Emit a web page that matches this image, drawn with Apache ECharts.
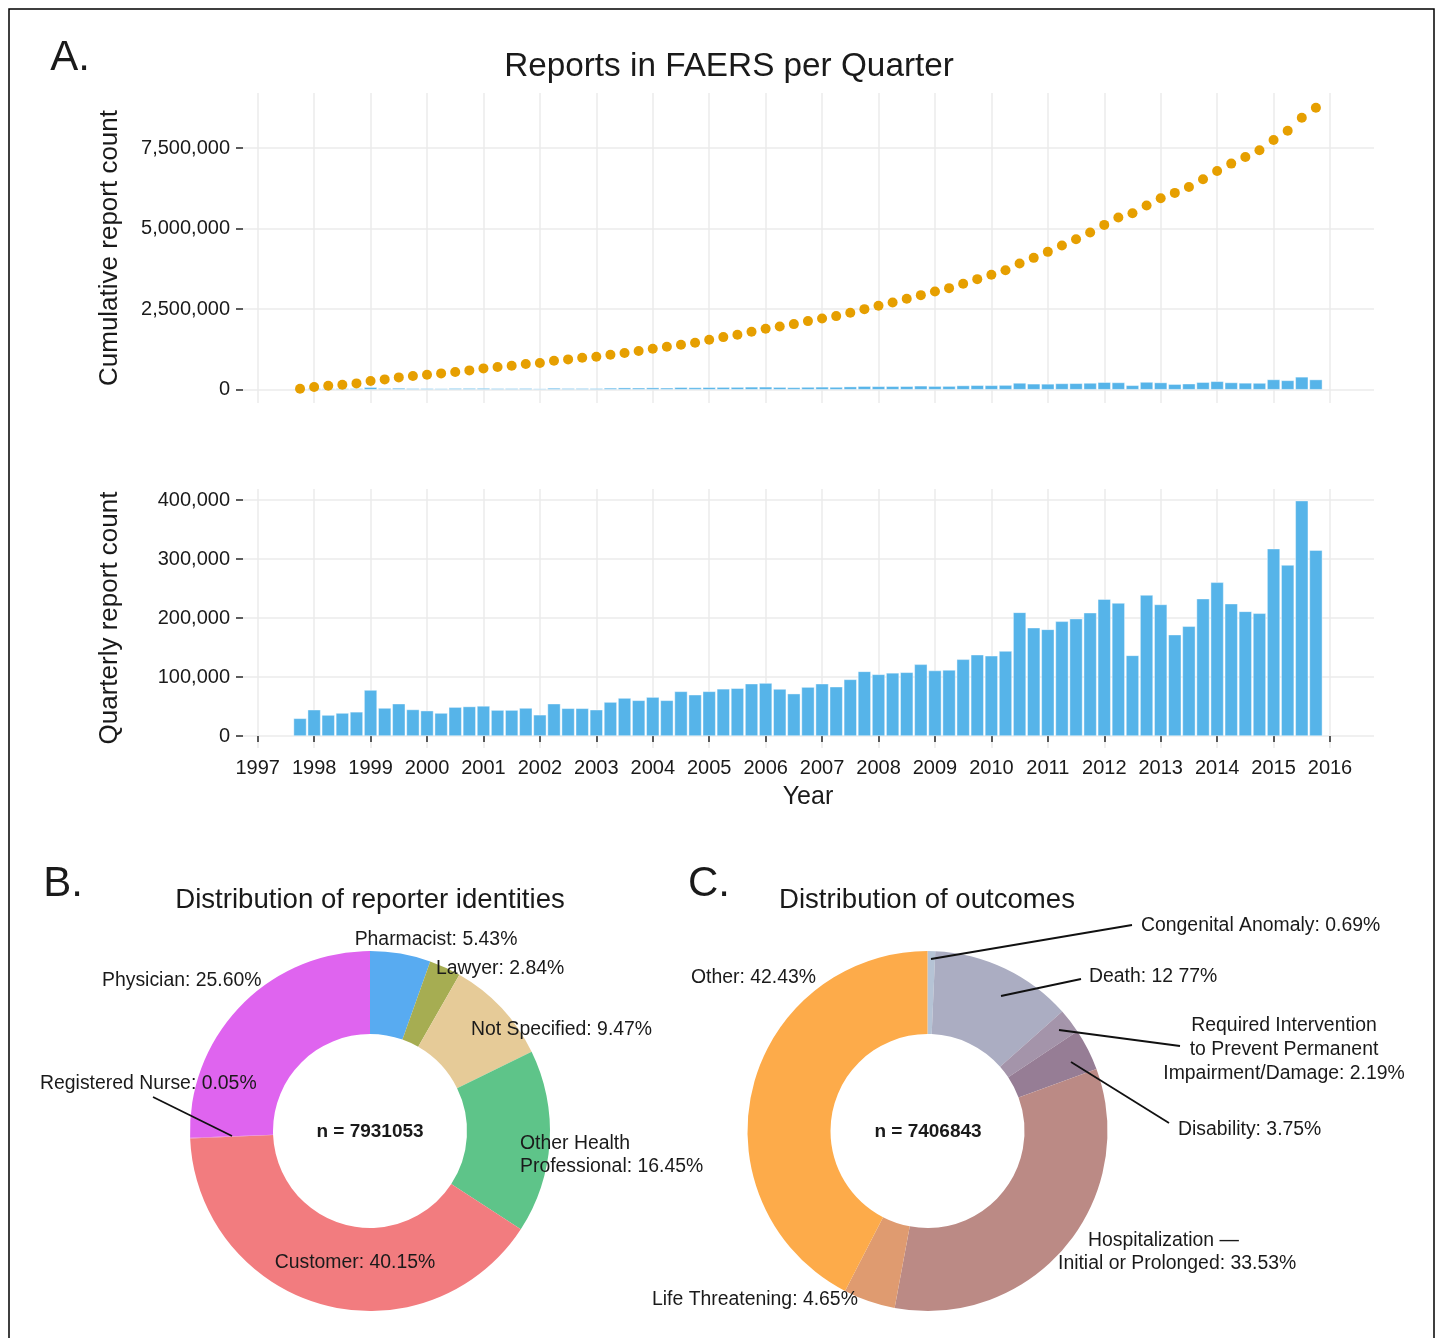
<!DOCTYPE html>
<html>
<head>
<meta charset="utf-8">
<script src="https://cdn.jsdelivr.net/npm/echarts@6/dist/echarts.min.js"></script>
<style>
html,body{margin:0;padding:0;background:#fff;}
#main{width:1439px;height:1338px;}
</style>
</head>
<body>
<div id="main"></div>
<script>
// ---------------- data ----------------
const quarters = [
  "1997Q4",
  "1998Q1","1998Q2","1998Q3","1998Q4",
  "1999Q1","1999Q2","1999Q3","1999Q4",
  "2000Q1","2000Q2","2000Q3","2000Q4",
  "2001Q1","2001Q2","2001Q3","2001Q4",
  "2002Q1","2002Q2","2002Q3","2002Q4",
  "2003Q1","2003Q2","2003Q3","2003Q4",
  "2004Q1","2004Q2","2004Q3","2004Q4",
  "2005Q1","2005Q2","2005Q3","2005Q4",
  "2006Q1","2006Q2","2006Q3","2006Q4",
  "2007Q1","2007Q2","2007Q3","2007Q4",
  "2008Q1","2008Q2","2008Q3","2008Q4",
  "2009Q1","2009Q2","2009Q3","2009Q4",
  "2010Q1","2010Q2","2010Q3","2010Q4",
  "2011Q1","2011Q2","2011Q3","2011Q4",
  "2012Q1","2012Q2","2012Q3","2012Q4",
  "2013Q1","2013Q2","2013Q3","2013Q4",
  "2014Q1","2014Q2","2014Q3","2014Q4",
  "2015Q1","2015Q2","2015Q3","2015Q4"
];
const quarterlyReports = [
  30000, 44600, 35600, 39000, 41000, 78000, 47500, 54800, 45000, 43000, 39000, 49000,
  50000, 51000, 44000, 44000, 47500, 36000, 54800, 47000, 47000, 44600, 57600, 64400,
  60500, 66000, 60500, 75700, 70000, 75700, 80000, 81000, 88700, 89800, 79700, 71800,
  83000, 88700, 83600, 96000, 109600, 104500, 107000, 108000, 121500, 111000, 112000, 130000,
  137800, 136000, 144000, 209600, 183600, 180800, 194400, 198900, 209000, 232000, 225400, 136700,
  239000, 223000, 171800, 186000, 232800, 260500, 224300, 211300, 208000, 317500, 289800, 398900,
  315000
];
const cumulativeReports = [
  31000, 83000, 124000, 155000, 196000, 269000, 320000, 382000, 424000, 465000,
  506000, 548000, 599000, 661000, 703000, 744000, 795000, 826000, 899000, 940000,
  992000, 1023000, 1085000, 1136000, 1198000, 1271000, 1333000, 1395000, 1457000, 1550000,
  1632000, 1705000, 1798000, 1891000, 1963000, 2035000, 2128000, 2211000, 2283000, 2386000,
  2500000, 2603000, 2707000, 2820000, 2934000, 3048000, 3151000, 3285000, 3430000, 3564000,
  3709000, 3915000, 4091000, 4277000, 4473000, 4670000, 4876000, 5114000, 5341000, 5475000,
  5713000, 5940000, 6106000, 6292000, 6529000, 6787000, 7015000, 7221000, 7428000, 7748000,
  8036000, 8440000, 8750000
];
const cumulativeTicks = [0, 2500000, 5000000, 7500000];
const quarterlyTicks = [0, 100000, 200000, 300000, 400000];
const yearTicks = [1997, 2016];

const reporterNames = ["Pharmacist", "Lawyer", "Not Specified", "Other Health Professional", "Customer", "Registered Nurse", "Physician"];
const reporterShares = [5.43, 2.84, 9.47, 16.45, 40.15, 0.05, 25.60];
const reporterTotal = 7931053;

const outcomeNames = ["Congenital Anomaly", "Death", "Required Intervention to Prevent Permanent Impairment/Damage", "Disability", "Hospitalization \u2014 Initial or Prolonged", "Life Threatening", "Other"];
const outcomeShares = [0.69, 12.77, 2.19, 3.75, 33.53, 4.65, 42.43];
const outcomeTotal = 7406843;

// ---------------- styles ----------------
const FONT = "'Liberation Sans', Arial, Helvetica, sans-serif";
const BLUE = '#56B4E9';
const ORANGE = '#E69F00';
const GRIDC = '#ebebeb';
const TXT = '#1a1a1a';
const reporterColors = ['#58ABF1', '#A6AD52', '#E6CB98', '#5EC489', '#F27C7F', '#EB6FB8', '#DF64EF'];
const outcomeColors = ['#B5C3D5', '#ABADC2', '#A494AA', '#967D95', '#BB8A85', '#DF9B70', '#FDAB4A'];

const toYear = q => +q.slice(0, 4) + (+q.slice(5) - 1) / 4;
const fmt = v => v.toLocaleString('en-US');

const barData = quarters.map((q, i) => [toYear(q), quarterlyReports[i]]);
const cumData = quarters.map((q, i) => [toYear(q), cumulativeReports[i]]);

const splitLine = { show: true, lineStyle: { color: GRIDC, width: 1.5 } };
const yTick = { show: true, length: 7, lineStyle: { color: '#333', width: 1.6 } };
const yLabel = { fontFamily: FONT, fontSize: 20, color: TXT, margin: 13, formatter: v => fmt(v) };

const chart = echarts.init(document.getElementById('main'), null, { renderer: 'canvas' });

function t(text, x, y, size, opts) {
  opts = opts || {};
  return {
    type: 'text', x: x, y: y, rotation: opts.rotation || 0, silent: true, z: 100,
    style: {
      text: text, font: (opts.bold ? 'bold ' : '') + size + 'px ' + FONT, fill: TXT,
      align: opts.align || 'center', verticalAlign: 'middle', lineHeight: opts.lineHeight || size * 1.2
    }
  };
}
function ln(x1, y1, x2, y2) {
  return { type: 'line', silent: true, z: 100, shape: { x1: x1, y1: y1, x2: x2, y2: y2 }, style: { stroke: '#111', lineWidth: 1.8 } };
}
const pct = v => v.toFixed(2) + '%';
const LS = 19.4;

const option = {
  animation: false,
  backgroundColor: '#fff',
  grid: [
    { left: 243, top: 148, width: 1131, height: 241.7, outerBoundsMode: 'none', containLabel: false },
    { left: 257.7, top: 93, width: 1072.3, height: 310, outerBoundsMode: 'none', containLabel: false },
    { left: 243, top: 500, width: 1131, height: 236, outerBoundsMode: 'none', containLabel: false },
    { left: 257.7, top: 489, width: 1072.3, height: 259, outerBoundsMode: 'none', containLabel: false }
  ],
  xAxis: [
    { gridIndex: 0, type: 'value', min: 0, max: 1, show: false },
    { gridIndex: 1, type: 'value', min: yearTicks[0], max: yearTicks[1], interval: 1,
      axisLine: { show: false }, axisTick: { show: false }, axisLabel: { show: false }, splitLine: splitLine },
    { gridIndex: 2, type: 'value', min: 0, max: 1, show: false },
    { gridIndex: 3, type: 'value', min: yearTicks[0], max: yearTicks[1], interval: 1,
      axisLine: { show: false },
      axisTick: { show: true, length: 6, lineStyle: { color: '#333', width: 1.6 } },
      axisLabel: { fontFamily: FONT, fontSize: 20, color: TXT, margin: 10, formatter: v => String(v) },
      splitLine: splitLine }
  ],
  yAxis: [
    { gridIndex: 0, type: 'value', min: cumulativeTicks[0], max: cumulativeTicks[cumulativeTicks.length - 1], interval: 2500000,
      axisLine: { show: false }, axisTick: yTick, axisLabel: yLabel, splitLine: splitLine },
    { gridIndex: 1, type: 'value', min: -412700, max: 9206000, show: false },
    { gridIndex: 2, type: 'value', min: quarterlyTicks[0], max: quarterlyTicks[quarterlyTicks.length - 1], interval: 100000,
      axisLine: { show: false }, axisTick: yTick, axisLabel: yLabel, splitLine: splitLine },
    { gridIndex: 3, type: 'value', min: -20300, max: 418600, show: false }
  ],
  series: [
    { type: 'bar', xAxisIndex: 1, yAxisIndex: 1, data: barData, barWidth: 13, silent: true,
      itemStyle: { color: BLUE, borderColor: 'rgba(255,255,255,0.7)', borderWidth: 0.6 } },
    { type: 'scatter', xAxisIndex: 1, yAxisIndex: 1, data: cumData, symbol: 'circle', symbolSize: 10, silent: true, z: 5,
      itemStyle: { color: ORANGE, opacity: 1 } },
    { type: 'bar', xAxisIndex: 3, yAxisIndex: 3, data: barData, barWidth: 13, silent: true,
      itemStyle: { color: BLUE, borderColor: 'rgba(255,255,255,0.7)', borderWidth: 0.6 } },
    { type: 'pie', center: [370, 1131], radius: [97, 180], startAngle: 90, clockwise: true, silent: true,
      avoidLabelOverlap: false, label: { show: false }, labelLine: { show: false },
      itemStyle: { borderWidth: 0 },
      data: reporterNames.map((n, i) => ({ name: n, value: reporterShares[i], itemStyle: { color: reporterColors[i] } })) },
    { type: 'pie', center: [927.5, 1131], radius: [97, 180], startAngle: 90, clockwise: true, silent: true,
      avoidLabelOverlap: false, label: { show: false }, labelLine: { show: false },
      itemStyle: { borderWidth: 0 },
      data: outcomeNames.map((n, i) => ({ name: n, value: outcomeShares[i], itemStyle: { color: outcomeColors[i] } })) }
  ],
  graphic: [
    { type: 'rect', silent: true, z: 100, shape: { x: 9, y: 9, width: 1425, height: 1340 },
      style: { fill: 'none', stroke: '#000', lineWidth: 1.5 } },
    t('A.', 70, 58, 42),
    t('Reports in FAERS per Quarter', 729, 67, 33.3),
    t('Cumulative report count', 110, 248, 26, { rotation: Math.PI / 2 }),
    t('Quarterly report count', 110, 618, 26, { rotation: Math.PI / 2 }),
    t('Year', 808, 797, 25),
    t('B.', 63, 884, 42),
    t('C.', 709, 884, 42),
    t('Distribution of reporter identities', 370, 900, 27.6),
    t('Distribution of outcomes', 927, 900, 27.6),
    // reporter labels
    t('n = ' + reporterTotal, 370, 1132, 19, { bold: true }),
    t(reporterNames[0] + ': ' + pct(reporterShares[0]), 436, 940, LS),
    t(reporterNames[1] + ': ' + pct(reporterShares[1]), 436, 969, LS, { align: 'left' }),
    t(reporterNames[2] + ': ' + pct(reporterShares[2]), 471, 1030, LS, { align: 'left' }),
    t('Other Health\nProfessional: ' + pct(reporterShares[3]), 520, 1155, LS, { align: 'left', lineHeight: 23 }),
    t(reporterNames[4] + ': ' + pct(reporterShares[4]), 355, 1263, LS),
    t(reporterNames[5] + ': ' + pct(reporterShares[5]), 40, 1084, LS, { align: 'left' }),
    t(reporterNames[6] + ': ' + pct(reporterShares[6]), 102, 981, LS, { align: 'left' }),
    ln(153, 1097, 232, 1136),
    // outcome labels
    t('n = ' + outcomeTotal, 928, 1132, 19, { bold: true }),
    t(outcomeNames[0] + ': ' + pct(outcomeShares[0]), 1141, 926, LS, { align: 'left' }),
    ln(931, 959, 1132, 925),
    t('Death: 12 77%', 1089, 977, LS, { align: 'left' }),
    ln(1001, 996, 1081, 979),
    t('Required Intervention\nto Prevent Permanent\nImpairment/Damage: ' + pct(outcomeShares[2]), 1284, 1049.5, LS, { lineHeight: 24 }),
    ln(1059, 1030, 1180, 1046),
    t(outcomeNames[3] + ': ' + pct(outcomeShares[3]), 1178, 1130, LS, { align: 'left' }),
    ln(1071, 1062, 1169, 1123),
    t('Hospitalization \u2014', 1088, 1241, LS, { align: 'left' }),
    t('Initial or Prolonged: ' + pct(outcomeShares[4]), 1058, 1264, LS, { align: 'left' }),
    t(outcomeNames[5] + ': ' + pct(outcomeShares[5]), 652, 1300, LS, { align: 'left' }),
    t(outcomeNames[6] + ': ' + pct(outcomeShares[6]), 691, 978, LS, { align: 'left' })
  ]
};
chart.setOption(option);
</script>
</body>
</html>
